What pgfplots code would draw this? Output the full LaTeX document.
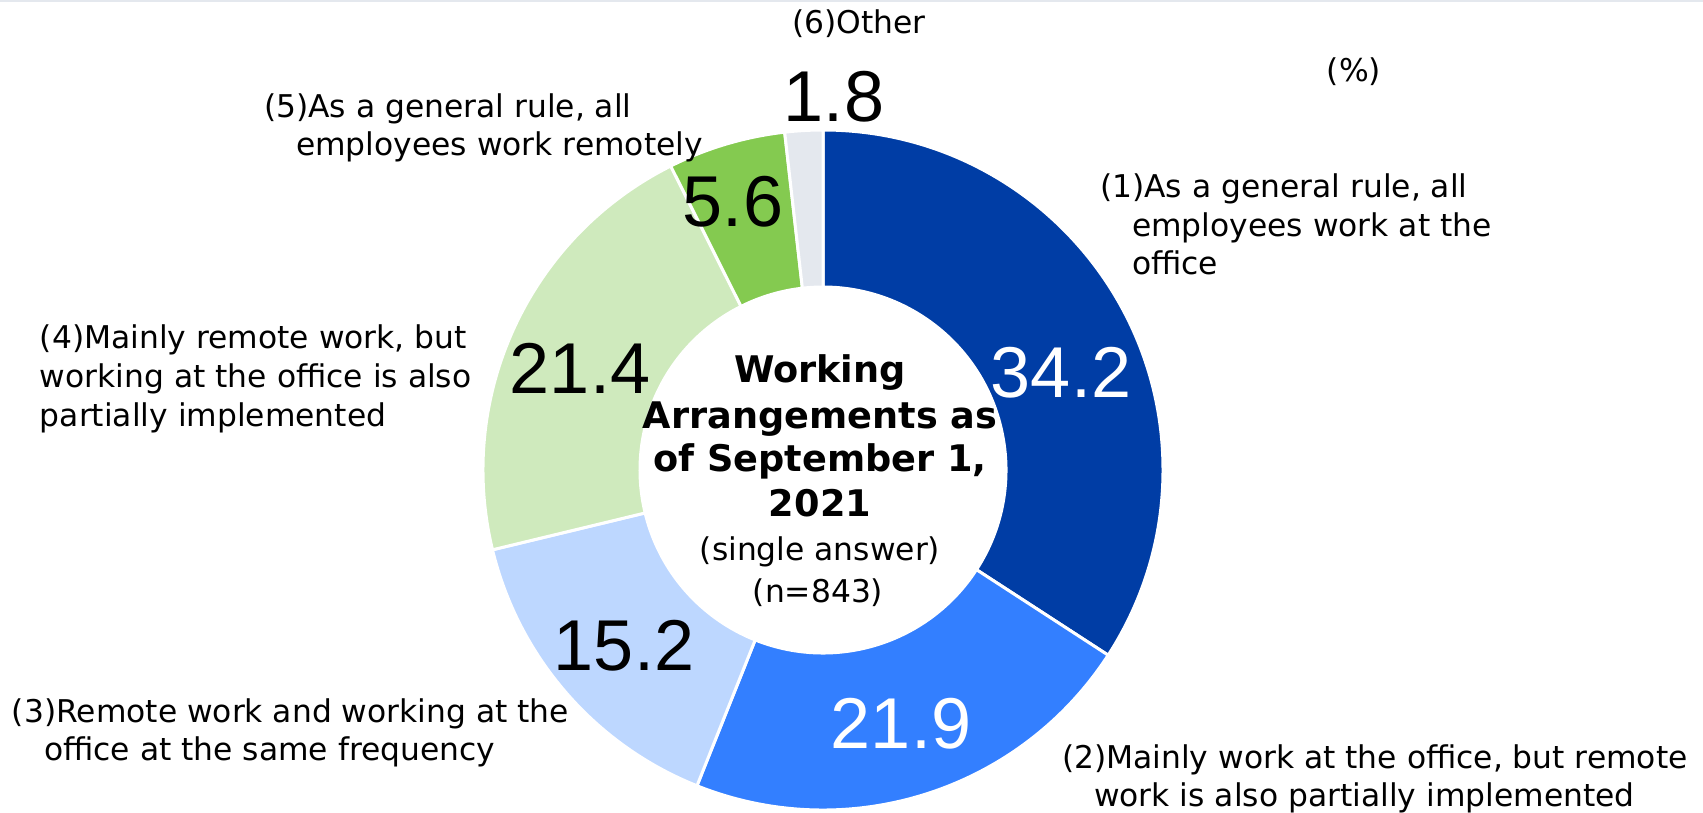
\documentclass[border=0pt]{standalone}
\usepackage{pgfplots}
\pgfplotsset{compat=1.18}
\usepackage{pgfplotstable}
\usepackage{fontspec}
\setmainfont{DejaVu Sans}
\newfontfamily\numfont{Liberation Sans}

\definecolor{c1}{HTML}{003DA5}
\definecolor{c2}{HTML}{337FFF}
\definecolor{c3}{HTML}{BDD7FF}
\definecolor{c4}{HTML}{CFEABD}
\definecolor{c5}{HTML}{84CA50}
\definecolor{c6}{HTML}{E4E8EE}

\newcommand\labfont{\fontsize{9.4}{11.25}\selectfont}
\newcommand\valfont{\numfont\fontsize{21.6}{26}\selectfont}
\newcommand\ctrfont{\fontsize{11}{13}\selectfont\bfseries}

% shares in %, clockwise from the top
\pgfplotstableread{
share color
34.2 c1
21.9 c2
15.2 c3
21.4 c4
5.6  c5
1.8  c6
}\sharetable

\begin{document}
\begin{tikzpicture}[every node/.style={inner sep=0pt, outer sep=0pt}]
\pgfplotstablegetrowsof{\sharetable}
\pgfmathtruncatemacro\lastrow{\pgfplotsretval-1}
\def\total{0}
\pgfplotsforeachungrouped \i in {0,...,\lastrow}{%
  \pgfplotstablegetelem{\i}{share}\of\sharetable
  \pgfmathsetmacro\total{\total+\pgfplotsretval}%
}
\begin{axis}[
    width=510.9pt, height=243.6pt,
    scale only axis,
    xmin=0, xmax=1703, ymin=0, ymax=812,
    y dir=reverse,
    hide axis,
    clip=false,
]
\draw[c6, line width=0.8pt] (axis cs:0,1) -- (axis cs:1703,1);

% donut: outer radius 340 units = 102pt, inner 183 units = 54.9pt
\def\astart{90}
\pgfplotsforeachungrouped \i in {0,...,\lastrow}{%
  \pgfplotstablegetelem{\i}{share}\of\sharetable \let\val\pgfplotsretval
  \pgfplotstablegetelem{\i}{color}\of\sharetable \let\col\pgfplotsretval
  \pgfmathsetmacro\aend{\astart-360*\val/\total}%
  \pgfmathsetmacro\aback{\aend+180}%
  \edef\slice{\noexpand\fill[\col, draw=white, line width=0.9pt]
    (axis cs:823,470) ++(\astart:102pt)
    arc[start angle=\astart, end angle=\aend, radius=102pt]
    -- ++(\aback:47.1pt)
    arc[start angle=\aend, end angle=\astart, radius=54.9pt] -- cycle;}%
  \slice
  \let\astart\aend
}

% values
\node[anchor=base, font=\valfont] at (axis cs:834,122) {1.8};
\node[anchor=base, font=\valfont, text=white] at (axis cs:1061,397) {34.2};
\node[anchor=base, font=\valfont] at (axis cs:733,227) {5.6};
\node[anchor=base, font=\valfont] at (axis cs:580,393) {21.4};
\node[anchor=base, font=\valfont] at (axis cs:624,670) {15.2};
\node[anchor=base, font=\valfont, text=white] at (axis cs:901,748) {21.9};

% category labels
\node[anchor=base west, font=\labfont] at (axis cs:792,34) {(6)Other};
\node[anchor=base, font=\labfont] at (axis cs:1354,82) {(\%)};

\node[anchor=base west, font=\labfont] at (axis cs:264,118) {(5)As a general rule, all};
\node[anchor=base west, font=\labfont] at (axis cs:264,156) {\hphantom{(5}employees work remotely};

\node[anchor=base west, font=\labfont] at (axis cs:1100,198) {(1)As a general rule, all};
\node[anchor=base west, font=\labfont] at (axis cs:1100,237) {\hphantom{(1}employees work at the};
\node[anchor=base west, font=\labfont] at (axis cs:1100,274) {\hphantom{(1}office};

\node[anchor=base west, font=\labfont] at (axis cs:40,348) {(4)Mainly remote work, but};
\node[anchor=base west, font=\labfont] at (axis cs:40,387) {working at the office is also};
\node[anchor=base west, font=\labfont] at (axis cs:40,426) {partially implemented};

\node[anchor=base west, font=\labfont] at (axis cs:12,722) {(3)Remote work and working at the};
\node[anchor=base west, font=\labfont] at (axis cs:12,760) {\hphantom{(3}office at the same frequency};

\node[anchor=base west, font=\labfont] at (axis cs:1062,768) {(2)Mainly work at the office, but remote};
\node[anchor=base west, font=\labfont] at (axis cs:1062,806) {\hphantom{(2}work is also partially implemented};

% centre title
\node[anchor=base, font=\ctrfont] at (axis cs:820,382) {Working};
\node[anchor=base, font=\ctrfont] at (axis cs:820,428) {Arrangements as};
\node[anchor=base, font=\ctrfont] at (axis cs:820,471) {of September 1,};
\node[anchor=base, font=\ctrfont] at (axis cs:820,516) {2021};
\node[anchor=base, font=\labfont] at (axis cs:820,560) {(single answer)};
\node[anchor=base, font=\labfont] at (axis cs:818,602) {(n=843)};
\end{axis}
\pgfresetboundingbox
\useasboundingbox (current axis.south west) rectangle (current axis.north east);
\end{tikzpicture}
\end{document}
